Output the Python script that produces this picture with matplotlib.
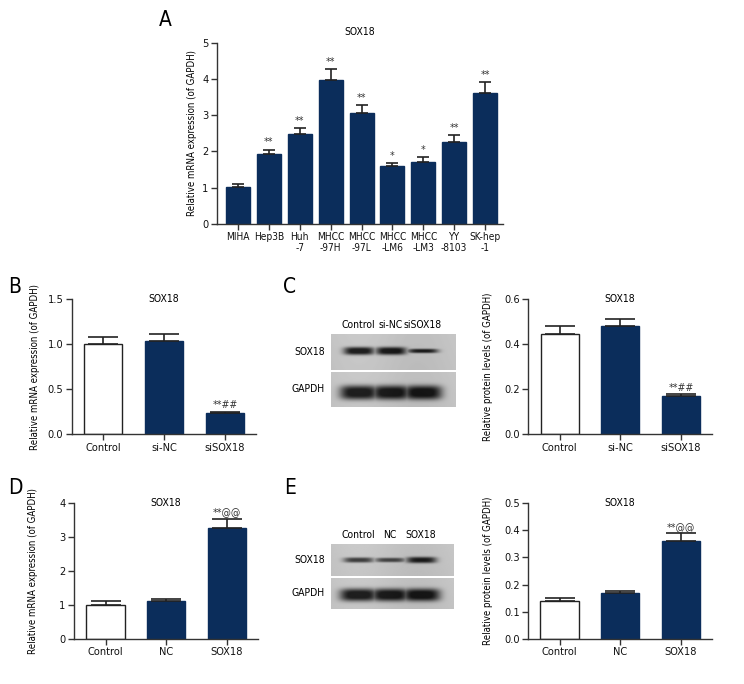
import numpy as np
import matplotlib
matplotlib.use("Agg")
import matplotlib.pyplot as plt
from matplotlib import font_manager as fm

names = {f.name for f in fm.fontManager.ttflist}
if 'Liberation Sans Narrow' in names:
    plt.rcParams['font.family'] = ['Liberation Sans Narrow', 'DejaVu Sans']
else:
    plt.rcParams['font.family'] = ['DejaVu Sans']
    plt.rcParams['font.stretch'] = 'condensed'

NAVY = '#0b2d5b'
AXC = '#333333'
TICK_FS = 7.9
YLAB_FS = 6.9
TITLE_FS = 7.5

# ---------------- data ----------------
a_cats = ['MIHA', 'Hep3B', 'Huh\n-7', 'MHCC\n-97H', 'MHCC\n-97L', 'MHCC\n-LM6', 'MHCC\n-LM3', 'YY\n-8103', 'SK-hep\n-1']
a_vals = [1.01, 1.92, 2.47, 3.98, 3.06, 1.60, 1.72, 2.25, 3.62]
a_errs = [0.08, 0.13, 0.18, 0.29, 0.21, 0.07, 0.12, 0.20, 0.29]
a_sig = ['', '**', '**', '**', '**', '*', '*', '**', '**']

b_cats = ['Control', 'si-NC', 'siSOX18']
b_vals = [1.00, 1.034, 0.24]
b_errs = [0.075, 0.076, 0.012]
b_sig = ['', '', '**##']

c_cats = ['Control', 'si-NC', 'siSOX18']
c_vals = [0.443, 0.482, 0.168]
c_errs = [0.037, 0.028, 0.009]
c_sig = ['', '', '**##']

d_cats = ['Control', 'NC', 'SOX18']
d_vals = [0.995, 1.10, 3.28]
d_errs = [0.13, 0.06, 0.26]
d_sig = ['', '', '**@@']

e_cats = ['Control', 'NC', 'SOX18']
e_vals = [0.138, 0.170, 0.361]
e_errs = [0.011, 0.005, 0.028]
e_sig = ['', '', '**@@']

# western blot band intensities (0..1) and relative thickness per lane
blot_c_lanes = ['Control', 'si-NC', 'siSOX18']
blot_c_sox18 = [1.0, 1.0, 0.9]
blot_c_sox18_h = [1.0, 1.0, 0.55]
blot_c_gapdh = [1.0, 1.0, 1.0]
blot_e_lanes = ['Control', 'NC', 'SOX18']
blot_e_sox18 = [0.75, 0.7, 0.9]
blot_e_sox18_h = [0.75, 0.65, 0.9]
blot_e_gapdh = [1.0, 1.0, 1.0]

W, H = 744, 684
fig = plt.figure(figsize=(W / 100, H / 100), dpi=100)


def px_axes(x0, y0, x1, y1):
    return fig.add_axes([x0 / W, 1 - y1 / H, (x1 - x0) / W, (y1 - y0) / H])


def style(ax, xfs):
    for s in ['top', 'right']:
        ax.spines[s].set_visible(False)
    for s in ['left', 'bottom']:
        ax.spines[s].set_color(AXC)
        ax.spines[s].set_linewidth(1.0)
    ax.tick_params(axis='both', direction='out', length=4, width=1.0, color=AXC,
                   labelsize=TICK_FS, labelcolor='#111111', pad=2)
    ax.tick_params(axis='x', labelsize=xfs)


def bar_panel(ax, cats, vals, errs, sig, ymax, yticks, fmt, ylabel, width,
              capsize, first_white, xlim, ylab_x, title_y=1.0, sig_fs=7.6, xfs=TICK_FS):
    x = np.arange(len(cats))
    colors = [NAVY] * len(cats)
    edges = [NAVY] * len(cats)
    if first_white:
        colors[0] = 'white'
        edges[0] = '#222222'
    ax.bar(x, vals, width=width, color=colors, edgecolor=edges, linewidth=1.0, zorder=2)
    ax.errorbar(x, vals, yerr=[np.zeros(len(vals)), errs], fmt='none', ecolor='#222222',
                elinewidth=1.2, capsize=capsize, capthick=1.2, zorder=3)
    for xi, v, e, s in zip(x, vals, errs, sig):
        if s:
            ax.text(xi, v + e + ymax * 0.012, s, ha='center', va='bottom', fontsize=sig_fs,
                    color='#333333')
    ax.set_ylim(0, ymax)
    ax.set_xlim(*xlim)
    ax.set_yticks(yticks)
    ax.set_yticklabels([fmt.format(t) for t in yticks])
    ax.set_xticks(x)
    ax.set_xticklabels(cats, linespacing=1.1)
    ax.set_ylabel(ylabel, fontsize=YLAB_FS)
    ax.yaxis.set_label_coords(ylab_x, 0.5)
    style(ax, xfs)
    ax.text(0.5, title_y, 'SOX18', transform=ax.transAxes, ha='center', va='center',
            fontsize=TITLE_FS)


# Panel A
axA = px_axes(216.7, 42.7, 502.7, 224)
bar_panel(axA, a_cats, a_vals, a_errs, a_sig, 5, [0, 1, 2, 3, 4, 5], '{:.0f}',
          'Relative mRNA expression (of GAPDH)', 0.78, 4.5, False, (-0.69, 8.57),
          -0.069, title_y=1.06, xfs=7.3)

# Panel B
axB = px_axes(71.7, 299, 256, 434.3)
bar_panel(axB, b_cats, b_vals, b_errs, b_sig, 1.5, [0.0, 0.5, 1.0, 1.5], '{:.1f}',
          'Relative mRNA expression (of GAPDH)', 0.63, 11, True, (-0.52, 2.51), -0.172)

# Panel C chart
axC = px_axes(528.3, 299, 711.7, 434.3)
bar_panel(axC, c_cats, c_vals, c_errs, c_sig, 0.6, [0.0, 0.2, 0.4, 0.6], '{:.1f}',
          'Relative protein levels (of GAPDH)', 0.63, 11, True, (-0.52, 2.51), -0.192)

# Panel D
axD = px_axes(74, 503.3, 258, 638.7)
bar_panel(axD, d_cats, d_vals, d_errs, d_sig, 4, [0, 1, 2, 3, 4], '{:.0f}',
          'Relative mRNA expression (of GAPDH)', 0.63, 11, True, (-0.52, 2.51), -0.196)

# Panel E chart
axE = px_axes(528, 503.3, 712, 638.7)
bar_panel(axE, e_cats, e_vals, e_errs, e_sig, 0.5, [0.0, 0.1, 0.2, 0.3, 0.4, 0.5], '{:.1f}',
          'Relative protein levels (of GAPDH)', 0.63, 11, True, (-0.52, 2.51), -0.19)


# ---------------- western blots ----------------
XL, XR = -0.875, 3.03


def band_image(intens, heights, half_h, half_w, cy, nx=250, ny=72):
    xs = np.linspace(XL, XR, nx)
    ys = np.linspace(0, 1, ny)
    X, Y = np.meshgrid(xs, ys)
    bg = 0.77 + 0.02 * np.cos(X * 1.7) - 0.015 * Y
    dark = np.zeros(X.shape)
    for i, (a, h) in enumerate(zip(intens, heights)):
        prof_x = np.exp(-np.abs((X - i) / half_w) ** 4)
        prof_y = np.exp(-np.abs((Y - cy) / (half_h * h)) ** 3)
        dark = np.maximum(dark, a * prof_x * prof_y)
    img = bg - np.clip(dark * 1.1, 0, 1) * 0.66
    return np.clip(img, 0, 1)


def blot(x0, x1, ytop, ysplit, ybot, lanes, sox, sox_h, gap, sox_cy, gap_cy):
    ax1 = px_axes(x0, ytop, x1, ysplit - 1)
    ax2 = px_axes(x0, ysplit + 1, x1, ybot)
    img1 = band_image(sox, sox_h, 0.11, 0.48, sox_cy)
    img2 = band_image(gap, [1, 1, 1], 0.2, 0.6, gap_cy)
    for ax, img, lab in [(ax1, img1, 'SOX18'), (ax2, img2, 'GAPDH')]:
        ax.imshow(img, cmap='gray', vmin=0, vmax=1, aspect='auto',
                  extent=(XL, XR, 1, 0), interpolation='bilinear')
        ax.set_xticks([])
        ax.set_yticks([])
        for s in ax.spines.values():
            s.set_visible(False)
        ax.text(-0.045, 0.5, lab, transform=ax.transAxes, ha='right', va='center',
                fontsize=TITLE_FS)
    for i, lab in enumerate(lanes):
        ax1.text(i, 1.12, lab, transform=ax1.get_xaxis_transform(), ha='center',
                 va='bottom', fontsize=TITLE_FS)


blot(330.5, 455, 334, 370.8, 407, blot_c_lanes, blot_c_sox18, blot_c_sox18_h,
     blot_c_gapdh, 0.47, 0.6)
blot(330.5, 453, 544, 576.5, 609, blot_e_lanes, blot_e_sox18, blot_e_sox18_h,
     blot_e_gapdh, 0.5, 0.56)

# panel letters
for lab, x, y in [('A', 165, 20), ('B', 15, 287), ('C', 290, 287), ('D', 15, 488), ('E', 290, 488)]:
    fig.text(x / W, 1 - y / H, lab, ha='center', va='center', fontsize=15)

fig.savefig('out.png', dpi=100, facecolor='white')
